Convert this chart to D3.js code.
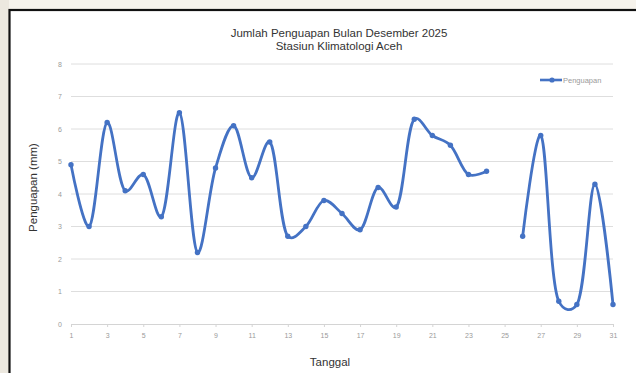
<!DOCTYPE html>
<html>
<head>
<meta charset="utf-8">
<script src="https://cdn.jsdelivr.net/npm/d3@7/dist/d3.min.js"></script>
<style>
  html, body { margin: 0; padding: 0; background: #f6f3ec; }
  svg { display: block; }
</style>
</head>
<body>
<svg id="chart" width="636" height="373"></svg>
<script>
// Daily evaporation (mm), December 2025; day 25 has no record
const days = d3.range(1, 32);
const penguapan = [4.9, 3.0, 6.2, 4.1, 4.6, 3.3, 6.5, 2.2, 4.8, 6.1,
                   4.5, 5.6, 2.7, 3.0, 3.8, 3.4, 2.9, 4.2, 3.6, 6.3,
                   5.8, 5.5, 4.6, 4.7, null, 2.7, 5.8, 0.7, 0.6, 4.3, 0.6];
const xTickLabels = [1, 3, 5, 7, 9, 11, 13, 15, 17, 19, 21, 23, 25, 27, 29, 31];
const yTickLabels = [0, 1, 2, 3, 4, 5, 6, 7, 8];
const titleLines = ["Jumlah Penguapan Bulan Desember 2025", "Stasiun Klimatologi Aceh"];

const svg = d3.select("#chart");
const font = "'Liberation Sans', Arial, sans-serif";
const blue = "#4472c4";

// chart panel with a dark frame
svg.append("rect").attr("x", 0).attr("y", 0).attr("width", 9).attr("height", 373)
  .attr("fill", "#ece8df");
svg.append("rect")
  .attr("x", 9.5).attr("y", 10).attr("width", 640).attr("height", 380)
  .attr("fill", "#ffffff").attr("stroke", "#111").attr("stroke-width", 2.2);

const x = d3.scaleLinear().domain([1, 31]).range([71, 613]);
const y = d3.scaleLinear().domain([0, 8]).range([324, 64]);

// gridlines
svg.append("g").selectAll("line").data(yTickLabels.filter(v => v > 0)).join("line")
  .attr("x1", x(1)).attr("x2", x(31))
  .attr("y1", d => y(d)).attr("y2", d => y(d))
  .attr("stroke", "#dedede").attr("stroke-width", 1);

// y axis labels
const yAxis = d3.axisLeft(y).tickValues(yTickLabels).tickSize(0).tickPadding(9)
  .tickFormat(d3.format("d"));
const gy = svg.append("g").attr("transform", `translate(${x(1)},0)`).call(yAxis);
gy.select(".domain").remove();
gy.selectAll("text").attr("fill", "#9a9a9a").style("font", `7px ${font}`);

// x axis
const xAxis = d3.axisBottom(x).tickValues(xTickLabels).tickSize(3).tickPadding(6)
  .tickFormat(d3.format("d"));
const gx = svg.append("g").attr("transform", `translate(0,${y(0)})`).call(xAxis);
gx.select(".domain").attr("stroke", "#d4d4d4");
gx.selectAll(".tick line").attr("stroke", "#d4d4d4");
gx.selectAll("text").attr("fill", "#9a9a9a").style("font", `7px ${font}`);

// smoothed series with a gap where data is missing
const points = days.map((d, i) => ({ day: d, v: penguapan[i] }));
const line = d3.line()
  .defined(p => p.v !== null)
  .x(p => x(p.day)).y(p => y(p.v))
  .curve(d3.curveCatmullRom.alpha(0.3));
svg.append("path").datum(points)
  .attr("d", line)
  .attr("fill", "none").attr("stroke", blue).attr("stroke-width", 2.8)
  .attr("stroke-linejoin", "round").attr("stroke-linecap", "round");
svg.append("g").selectAll("circle").data(points.filter(p => p.v !== null)).join("circle")
  .attr("cx", p => x(p.day)).attr("cy", p => y(p.v)).attr("r", 2.7)
  .attr("fill", blue);

// title
svg.append("g").selectAll("text").data(titleLines).join("text")
  .attr("x", 339).attr("y", (d, i) => 37 + i * 13)
  .attr("text-anchor", "middle").attr("fill", "#333")
  .style("font", `11.5px ${font}`).text(d => d);

// axis titles
svg.append("text")
  .attr("transform", `translate(37,${y(4.2)}) rotate(-90)`)
  .attr("text-anchor", "middle").attr("fill", "#333")
  .style("font", `11.5px ${font}`).text("Penguapan (mm)");
svg.append("text")
  .attr("x", 330).attr("y", 366).attr("text-anchor", "middle").attr("fill", "#333")
  .style("font", `11.5px ${font}`).text("Tanggal");

// legend
const lg = svg.append("g").attr("transform", "translate(540,80)");
lg.append("line").attr("x1", 0).attr("x2", 22).attr("y1", 0).attr("y2", 0)
  .attr("stroke", blue).attr("stroke-width", 2.6);
lg.append("circle").attr("cx", 12).attr("cy", 0).attr("r", 2.6).attr("fill", blue);
lg.append("text").attr("x", 23).attr("y", 2.5).attr("fill", "#9a9a9a")
  .style("font", `7.5px ${font}`).text("Penguapan");
</script>
</body>
</html>
